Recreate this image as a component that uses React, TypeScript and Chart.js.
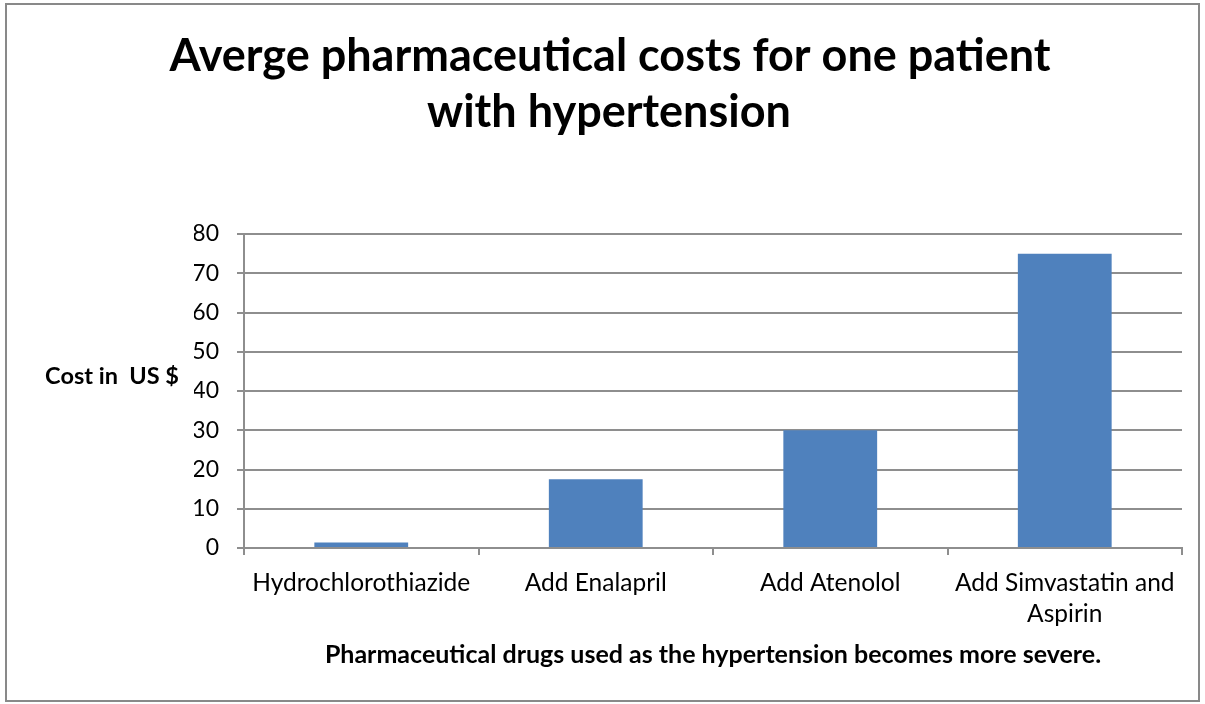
import React, { useEffect, useRef } from "react";
import { Chart, registerables } from "chart.js";

Chart.register(...registerables);

const categories: (string | string[])[] = [
  "Hydrochlorothiazide",
  "Add Enalapril",
  "Add Atenolol",
  ["Add Simvastatin and", "Aspirin"],
];
const costs = [1.4, 17.5, 30, 75];
const titleLines = ["Averge pharmaceutical costs for one patient", "with hypertension"];
const yAxisTitle = "Cost in  US $";
const xAxisTitle = "Pharmaceutical drugs used as the hypertension becomes more severe.";

const FONT = "Lato, 'Open Sans', sans-serif";

export default function App() {
  const ref = useRef<HTMLCanvasElement | null>(null);

  useEffect(() => {
    document.body.style.margin = "0";
    const canvas = ref.current;
    if (!canvas) return;

    const textPlugin = {
      id: "texts",
      afterDraw(chart: any) {
        const ctx = chart.ctx as CanvasRenderingContext2D;
        ctx.save();
        // outer border
        ctx.strokeStyle = "#898989";
        ctx.lineWidth = 2;
        ctx.strokeRect(6, 4, 1193, 697);
        ctx.fillStyle = "#000";
        // title
        ctx.font = `bold 45px ${FONT}`;
        ctx.textAlign = "center";
        ctx.textBaseline = "alphabetic";
        ctx.fillText(titleLines[0], 610, 71);
        ctx.fillText(titleLines[1], 609, 127);
        // y title
        ctx.font = `bold 23.5px ${FONT}`;
        ctx.textAlign = "right";
        ctx.fillText(yAxisTitle, 179, 384);
        // x title
        ctx.font = `bold 25px ${FONT}`;
        ctx.textAlign = "center";
        ctx.fillText(xAxisTitle, 713, 663);
        ctx.restore();
      },
    };

    const chart = new Chart(canvas, {
      type: "bar",
      data: {
        labels: categories,
        datasets: [
          {
            data: costs,
            backgroundColor: "#4F81BD",
            borderWidth: 0,
            barPercentage: 0.4,
            categoryPercentage: 1,
          },
        ],
      },
      options: {
        animation: false,
        responsive: false,
        layout: { padding: { left: 194, right: 23, top: 234, bottom: 56 } },
        plugins: {
          legend: { display: false },
          title: { display: false },
          tooltip: { enabled: false },
        },
        scales: {
          x: {
            afterFit: (s: any) => {
              s.height = 100;
            },
            grid: {
              offset: true,
              drawOnChartArea: false,
              color: "#8e8e8e",
              lineWidth: 2,
              tickLength: 7,
            },
            border: { color: "#8e8e8e", width: 2 },
            ticks: {
              color: "#000",
              font: { family: FONT, size: 24.5, lineHeight: 1.28 },
              padding: 12,
              maxRotation: 0,
              autoSkip: false,
            },
          },
          y: {
            min: 0,
            max: 80,
            afterFit: (s: any) => {
              s.width = 50;
            },
            grid: {
              color: "#8e8e8e",
              lineWidth: 2,
              tickLength: 7,
            },
            border: { color: "#8e8e8e", width: 2 },
            ticks: {
              stepSize: 10,
              color: "#000",
              font: { family: FONT, size: 23 },
              padding: 18,
            },
          },
        },
      },
      plugins: [textPlugin],
    });

    return () => chart.destroy();
  }, []);

  return (
    <div style={{ width: 1205, height: 704, position: "relative", background: "#fff" }}>
      <canvas ref={ref} width={1205} height={704} style={{ display: "block" }} />
    </div>
  );
}
